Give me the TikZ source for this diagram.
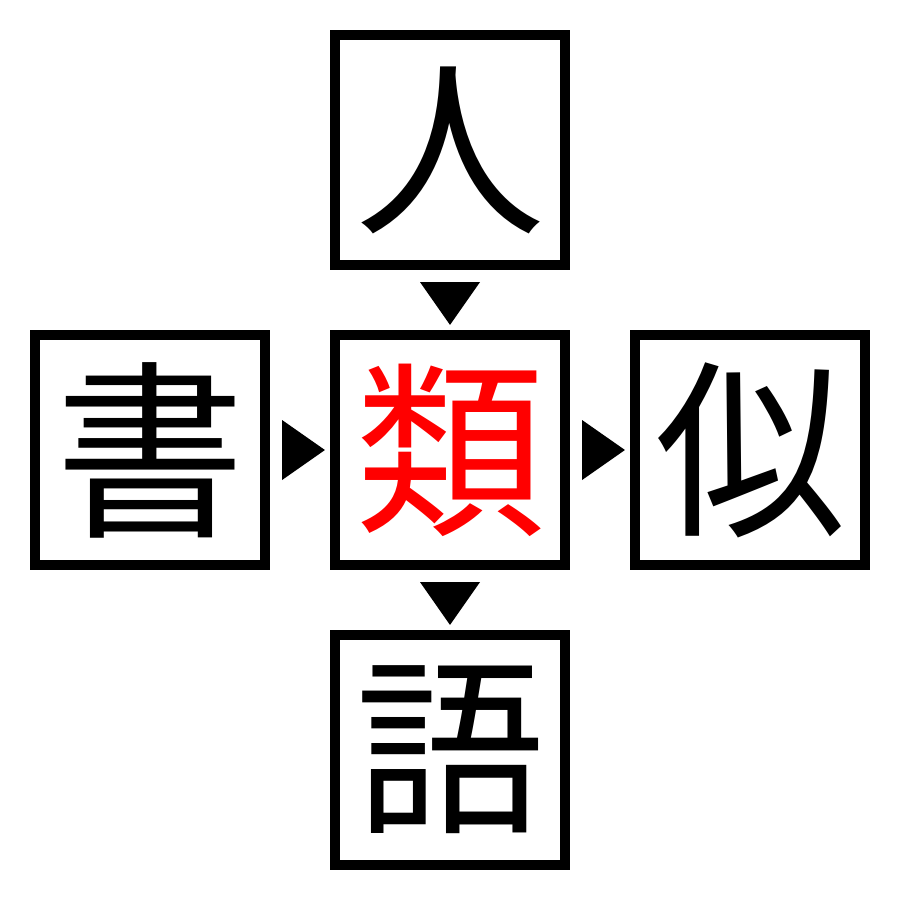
\documentclass[tikz,border=0pt]{standalone}
\usepackage{fontspec}
\newfontfamily\cjk{Noto Sans CJK JP}
\usetikzlibrary{calc}
\begin{document}
\begin{tikzpicture}[x=0.01cm,y=-0.01cm,
  kbox/.style={draw=black,line width=0.1cm,minimum size=2.3cm,inner sep=0pt,
    font=\cjk\fontsize{54pt}{54pt}\selectfont},
  tri/.style={fill=black}]
\useasboundingbox[fill=white] (0,0) rectangle (900,900);
\node[kbox] (T) at (450,150) {人};
\node[kbox] (L) at (150,450) {書};
\node[kbox,text=red] (C) at (450,450) {類};
\node[kbox] (R) at (750,450) {似};
\node[kbox] (B) at (450,750) {語};
\fill[tri] ($(T.south)+(-30,12)$) -- ($(T.south)+(30,12)$) -- ($(C.north)+(0,-5)$) -- cycle;
\fill[tri] ($(L.east)+(12,-30)$) -- ($(L.east)+(12,30)$) -- ($(C.west)+(-5,0)$) -- cycle;
\fill[tri] ($(C.east)+(12,-30)$) -- ($(C.east)+(12,30)$) -- ($(R.west)+(-5,0)$) -- cycle;
\fill[tri] ($(C.south)+(-30,12)$) -- ($(C.south)+(30,12)$) -- ($(B.north)+(0,-5)$) -- cycle;
\end{tikzpicture}
\end{document}
